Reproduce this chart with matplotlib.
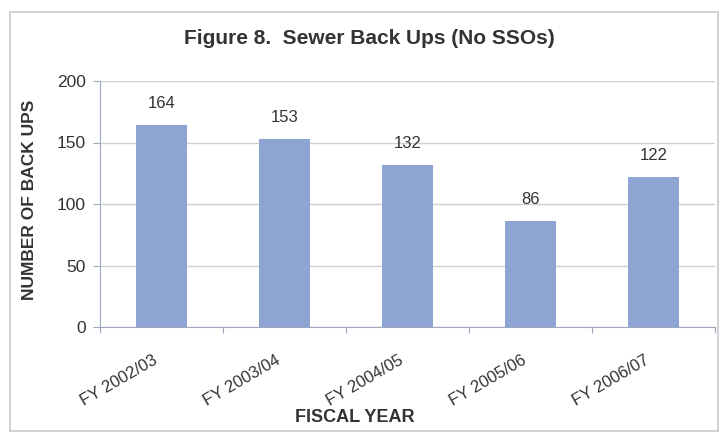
import matplotlib
matplotlib.use("Agg")
import matplotlib.pyplot as plt
import matplotlib.transforms as mtrans
from matplotlib.patches import Rectangle

plt.rcParams['font.family'] = ['Liberation Sans', 'DejaVu Sans']

categories = ["FY 2002/03", "FY 2003/04", "FY 2004/05", "FY 2005/06", "FY 2006/07"]
values = [164, 153, 132, 86, 122]
yticks = [0, 50, 100, 150, 200]

W, H = 721, 434
fig = plt.figure(figsize=(W / 100, H / 100), dpi=100)
fig.patch.set_facecolor("white")

# outer chart frame
fig.add_artist(Rectangle((10 / W, 1 - 431 / H), 708 / W, 419 / H, transform=fig.transFigure,
                         fill=False, edgecolor="#c8c8c8", linewidth=1.2))

ax = fig.add_axes([100 / W, 1 - 327 / H, 615 / W, 246 / H])
x = list(range(len(categories)))
ax.bar(x, values, width=0.41, color="#8EA5D4", zorder=3)
ax.set_xlim(-0.5, len(categories) - 0.5)
ax.set_ylim(0, 200)
ax.set_yticks(yticks)
ax.grid(axis="y", color="#d0d0d0", linewidth=1.0, zorder=0)

for s in ["top", "right"]:
    ax.spines[s].set_visible(False)
ax.spines["left"].set_color("#a0a8c0")
ax.spines["bottom"].set_color("#a0a8c0")

ax.set_xticks([i - 0.5 for i in range(len(categories) + 1)], minor=False)
ax.set_xticklabels([])
ax.set_xticks(x, minor=True)
ax.set_xticklabels(categories, minor=True, rotation=30, ha="right", va="center",
                   rotation_mode="anchor", fontsize=12, color="#333333")
ax.tick_params(axis="x", which="minor", length=0, pad=0)
ax.tick_params(axis="x", which="major", length=4, color="#a0a8c0")
ax.tick_params(axis="y", length=5, color="#a0a8c0", labelsize=12.5, labelcolor="#333333", pad=5)

offset = mtrans.ScaledTranslation(-5 / 100, -32 / 100, fig.dpi_scale_trans)
for lbl in ax.get_xticklabels(minor=True):
    lbl.set_transform(lbl.get_transform() + offset)

for xi, v in zip(x, values):
    ax.annotate(str(v), (xi, v), xytext=(0, 10), textcoords="offset points",
                ha="center", va="bottom", fontsize=12, color="#333333")

fig.text(30 / W, 1 - 200 / H, "NUMBER OF BACK UPS", rotation=90, ha="center", va="center",
         fontsize=12.5, fontweight="bold", color="#333333")
fig.text(355 / W, 1 - 418 / H, "FISCAL YEAR", ha="center", va="center",
         fontsize=13, fontweight="bold", color="#333333")
fig.text(369 / W, 1 - 39 / H, "Figure 8.  Sewer Back Ups (No SSOs)", ha="center", va="center",
         fontsize=15, fontweight="bold", color="#333333")

fig.savefig("out.png", dpi=100)
